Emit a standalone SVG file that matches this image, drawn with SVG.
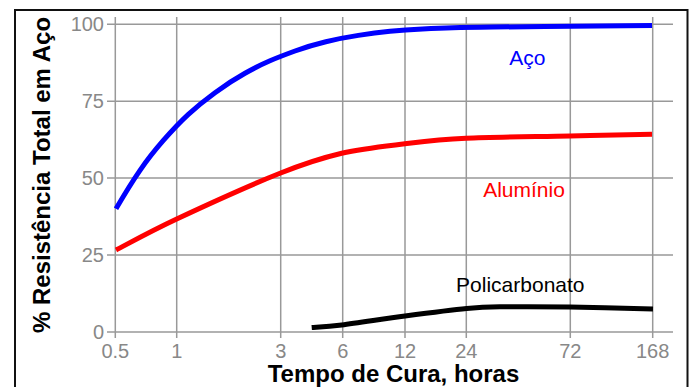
<svg xmlns="http://www.w3.org/2000/svg" width="692" height="387" viewBox="0 0 692 387">
<style>
.grid{stroke:#999;stroke-width:1.5;fill:none}
.tick{font-family:"Liberation Sans",Arial,sans-serif;font-size:20px;fill:#888}
.axis{font-family:"Liberation Sans",Arial,sans-serif;font-size:24px;font-weight:bold;fill:#000}
.lbl{font-family:"Liberation Sans",Arial,sans-serif;font-size:21px}
.curve{fill:none;stroke-width:5;stroke-linecap:butt;stroke-linejoin:round}
</style>
<rect x="0" y="0" width="692" height="387" fill="#fff"/>
<rect x="15" y="10" width="672.5" height="400" fill="none" stroke="#111" stroke-width="2"/>
<g id="grid">
<path class="grid" d="M107 24.3H673M107 101.2H673M107 178.1H673M107 255H673M107 331.9H673"/>
<path class="grid" d="M115.3 17V338M176.7 17V338M280.7 17V338M342.7 17V338M405 17V338M466.3 17V338M570.3 17V338M652.7 17V338"/>
</g>
<g id="y-ticks" class="tick" text-anchor="end">
<text x="104" y="31">100</text>
<text x="104" y="108">75</text>
<text x="104" y="185">50</text>
<text x="104" y="262">25</text>
<text x="104" y="339">0</text>
</g>
<g id="x-ticks" class="tick" text-anchor="middle">
<text x="115.3" y="358">0.5</text>
<text x="176.7" y="358">1</text>
<text x="280.7" y="358">3</text>
<text x="342.7" y="358">6</text>
<text x="405" y="358">12</text>
<text x="466.3" y="358">24</text>
<text x="570.3" y="358">72</text>
<text x="652.7" y="358">168</text>
</g>
<text id="x-label" class="axis" x="393.5" y="382" text-anchor="middle">Tempo de Cura, horas</text>
<text id="y-label" class="axis" transform="translate(50,175) rotate(-90)" text-anchor="middle">% Resistência Total em Aço</text>
<g id="connectors">
<path id="aco-curve" class="curve" stroke="#0000ff" d="M116 208.7Q130 184.8 140 170.3Q150 155.8 163.35 140.45Q176.7 125.1 188.35 114.35Q200 103.6 215 92.65Q230 81.7 245 73.3Q260 64.9 270 60.7Q280 56.5 295 51Q310 45.5 325.85 41.7Q341.7 37.9 358.35 35.35Q375 32.8 390 31.35Q405 29.9 422.5 29.05Q440 28.2 453 27.8Q466 27.4 493 27.05Q520 26.7 545 26.45Q570 26.2 652 25.4"/>
<path id="aluminio-curve" class="curve" stroke="#ff0000" d="M116 250C126.1 244.8 149.4 231.8 176.7 219C204 206.2 252.5 184.25 280 173.3C307.5 162.35 320.9 158.2 341.7 153.3C362.5 148.4 384.3 146.3 405 143.8C425.7 141.3 438.5 139.6 466 138.3C493.5 137 539 136.7 570 136C601 135.3 638.3 134.6 652 134.3"/>
<path id="policarbonato-curve" class="curve" stroke="#000" d="M311.7 327.5C316.7 327.1 326.15 326.9 341.7 325C357.25 323.1 384.2 318.75 405 316C425.8 313.25 450.4 310 466.7 308.5C483 307 485.8 307.05 503 306.8C520.2 306.55 545 306.6 570 307C595 307.4 639.2 308.7 653 309"/>
</g>
<g id="aco">
<text class="lbl" x="527.3" y="65" text-anchor="middle" fill="#0000ff">Aço</text>
</g>
<g id="aluminio">
<text class="lbl" x="524" y="197" text-anchor="middle" fill="#ff0000">Alumínio</text>
</g>
<g id="policarbonato">
<text class="lbl" x="520.3" y="292" text-anchor="middle" fill="#000">Policarbonato</text>
</g>
</svg>
